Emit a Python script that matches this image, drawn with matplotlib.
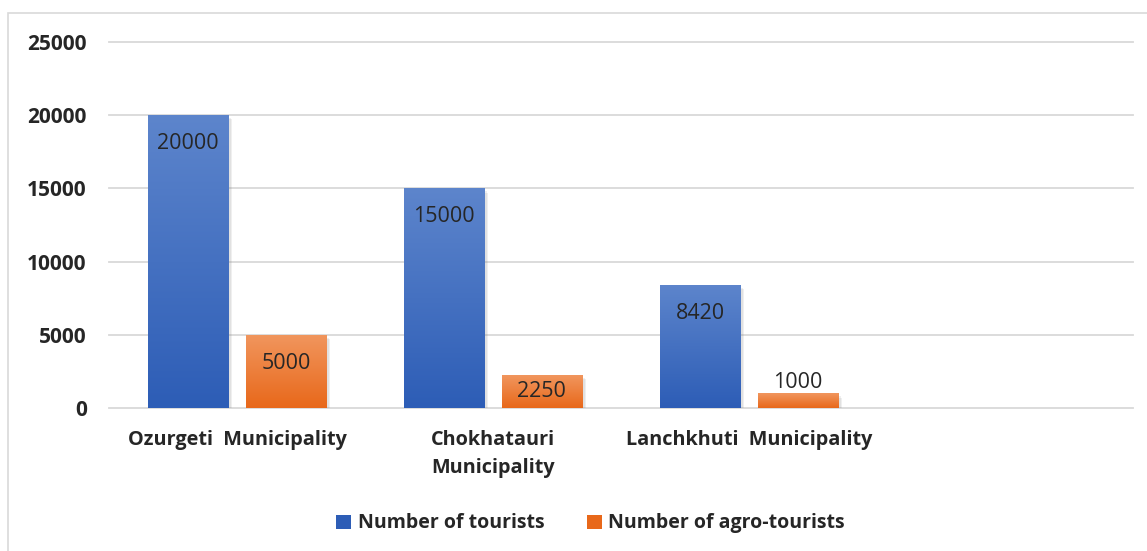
import numpy as np
import matplotlib
matplotlib.use('Agg')
from matplotlib import pyplot as plt
from matplotlib import patheffects
from matplotlib.colors import LinearSegmentedColormap
from matplotlib.patches import Rectangle

# data
categories = ['Ozurgeti  Municipality', 'Chokhatauri\nMunicipality',
              'Lanchkhuti  Municipality', '']
tourists = [20000, 15000, 8420, None]
agro_tourists = [5000, 2250, 1000, None]
series_names = ['Number of tourists', 'Number of agro-tourists']
y_ticks = [0, 5000, 10000, 15000, 20000, 25000]

# gradient colours (top, bottom) as in the office-style chart
blue = ('#5D85CC', '#2D5DB6')
orange = ('#F1965E', '#E8681A')

plt.rcParams['font.family'] = ['Open Sans', 'DejaVu Sans']

fig = plt.figure(figsize=(11.47, 5.51), dpi=100)
ax = fig.add_axes([0.095, 0.2595, 0.8928, 0.6642])

# light frame around the chart area
fig.patches.append(Rectangle((8 / 1147, -0.1), 1.2, 1.1 - 13 / 551,
                             transform=fig.transFigure, fill=False,
                             edgecolor='#D9D9D9', linewidth=1.2))

x = np.arange(len(categories))
width = 0.3125
offset = 0.191


def gradient_bars(xpos, values, colors, label):
    vals = [np.nan if v is None else v for v in values]
    bars = ax.bar(xpos, vals, width, color=colors[1], label=label, zorder=2,
                  linewidth=0)
    cmap = LinearSegmentedColormap.from_list('g', [colors[1], colors[0]])
    grad = np.linspace(0, 1, 256).reshape(-1, 1)
    for b, v in zip(bars, vals):
        if np.isnan(v):
            continue
        # soft-ish shadow: a few stacked translucent offsets
        b.set_path_effects([patheffects.SimplePatchShadow(offset=(d, -d),
                                                          shadow_rgbFace='#7f7f7f',
                                                          alpha=0.12)
                            for d in (1, 2, 3)] + [patheffects.Normal()])
        x0, y0 = b.get_x(), b.get_y()
        im = ax.imshow(grad, cmap=cmap, aspect='auto', origin='lower',
                       extent=(x0, x0 + b.get_width(), y0, y0 + b.get_height()),
                       zorder=3, interpolation='bicubic')
        im.set_clip_path(b)
        # value label
        if v > 1500:
            ypos = max(v - 1950, v / 2)
        else:
            ypos = v + 750
        ax.text(b.get_x() + b.get_width() / 2, ypos, '%d' % v,
                ha='center', va='center', fontsize=15.5, color='#262626',
                zorder=4)
    return bars


gradient_bars(x - offset, tourists, blue, series_names[0])
gradient_bars(x + offset, agro_tourists, orange, series_names[1])

ax.set_xlim(-0.5, len(categories) - 0.5)
ax.set_ylim(0, 25000)
ax.set_yticks(y_ticks)
ax.set_yticklabels([str(t) for t in y_ticks], fontsize=15, fontweight='bold',
                   color='#262626')
ax.set_xticks(x)
ax.set_xticklabels(categories, fontsize=14.3, fontweight='bold', color='#262626',
                   va='top', linespacing=1.55)
ax.tick_params(axis='both', length=0)
ax.tick_params(axis='y', pad=16)
ax.tick_params(axis='x', pad=16)

for t in y_ticks:
    ax.axhline(t, color='#D9D9D9', linewidth=1.3, zorder=1, clip_on=False)
for s in ax.spines.values():
    s.set_visible(False)

handles = [Rectangle((0, 0), 1, 1, facecolor=blue[1]),
           Rectangle((0, 0), 1, 1, facecolor=orange[1])]
leg = fig.legend(handles, series_names, loc='center', bbox_to_anchor=(0.515, 0.05),
                 ncol=2, frameon=False, fontsize=14, handlelength=0.75,
                 handleheight=0.75, handletextpad=0.35, columnspacing=2.2)
for t in leg.get_texts():
    t.set_fontweight('bold')
    t.set_color('#262626')

fig.savefig('out.png', dpi=100)
